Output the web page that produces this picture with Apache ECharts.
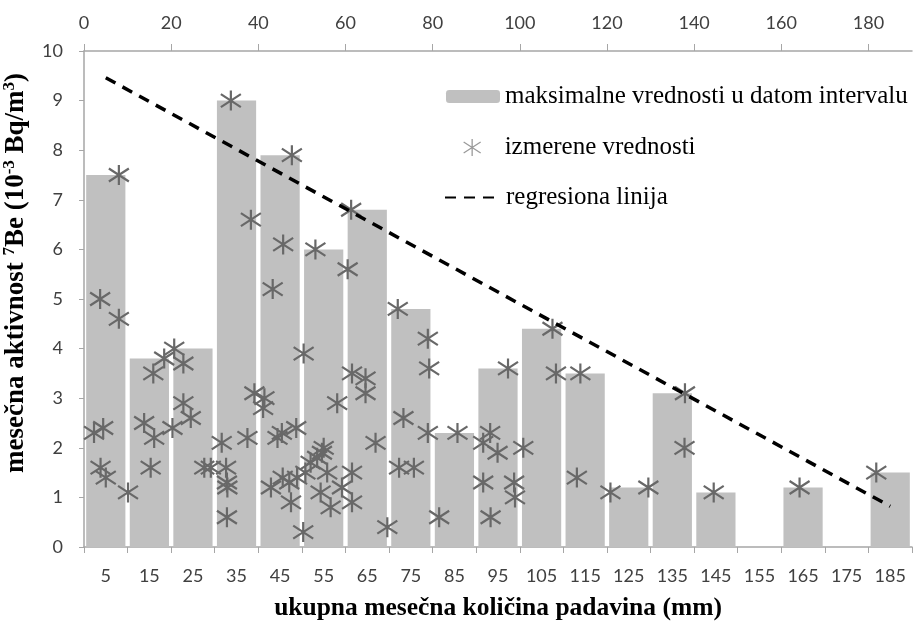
<!DOCTYPE html>
<html>
<head>
<meta charset="utf-8">
<script src="https://cdn.jsdelivr.net/npm/echarts@6/dist/echarts.min.js"></script>
<style>html,body{margin:0;padding:0;background:#fff}#c{width:924px;height:621px}</style>
</head>
<body>
<div id="c"></div>
<script>
// Categories (bottom axis, mm interval centres)
var categories = ['5','15','25','35','45','55','65','75','85','95','105','115','125','135','145','155','165','175','185'];
// Maximum value per interval (bars)
var barValues = [7.5,3.8,4.0,9.0,7.9,6.0,6.8,4.8,2.3,3.6,4.4,3.5,1.2,3.1,1.1,0,1.2,0,1.5];
// Measured values: precipitation (mm) and activity
var measuredX = [3.7,8.0,8.0,2.3,4.4,3.8,5.0,10.1,13.8,15.9,16.1,15.3,18.4,20.7,22.8,20.3,22.8,24.5,27.6,29.1,
  31.6,32.6,32.8,32.9,32.8,33.7,37.5,38.3,39.1,41.4,41.1,43.3,45.7,47.7,44.4,45.4,48.7,42.9,45.6,47.1,
  47.5,48.9,50.3,50.4,53.1,55.0,54.6,52.0,53.5,55.8,50.8,54.3,56.6,59.2,61.5,61.5,58.1,60.5,61.3,61.5,
  64.6,64.6,66.9,69.6,72.0,73.3,72.3,75.7,78.9,79.2,78.9,81.5,85.7,91.6,93.2,94.9,91.6,93.3,97.3,98.7,
  98.9,100.8,107.5,108.3,113.9,113.1,120.8,129.5,137.9,137.8,144.5,164.2,181.8];
var measuredY = [5.0,7.5,4.6,2.3,2.4,1.6,1.4,1.1,2.5,3.5,2.2,1.6,3.8,4.0,3.7,2.4,2.9,2.6,1.6,1.6,
  2.1,1.6,1.3,1.2,0.6,9.0,2.2,6.6,3.1,3.0,2.8,5.2,6.1,7.9,2.2,2.3,2.4,1.2,1.4,1.3,
  0.9,1.4,0.3,3.9,6.0,2.0,1.9,1.7,1.8,1.5,1.5,1.1,0.8,1.2,1.5,0.9,2.9,5.6,6.8,3.5,
  3.4,3.1,2.1,0.4,4.8,2.6,1.6,1.6,4.2,3.6,2.3,0.6,2.3,2.1,2.3,1.9,1.3,0.6,3.6,1.3,
  1.0,2.0,4.4,3.5,3.5,1.4,1.1,1.2,3.1,2.0,1.1,1.2,1.5];
// Regression line endpoints (mm, activity)
var regX = [5, 185];
var regY = [9.46, 0.82];
// Tick labels
var topTicks = [0,20,40,60,80,100,120,140,160,180];
var yTicks = [0,1,2,3,4,5,6,7,8,9,10];

var scatterData = measuredX.map(function(x,i){return [x, measuredY[i]];});
var regData = regX.map(function(x,i){return [x, regY[i]];});

var STAR = 'path://M10,0L10,20M0,3.5L20,16.5M0,16.5L20,3.5';
var axisGray = '#a6a6a6';
var labelFont = {fontFamily:'Lato', fontSize:18, color:'#404040'};
var serif = 'Liberation Serif';
var legendText = {fontFamily:serif, fontSize:25, color:'#000'};

var chart = echarts.init(document.getElementById('c'), null, {renderer:'canvas'});
chart.setOption({
  animation:false,
  backgroundColor:'#fff',
  grid:{left:84, right:12, top:51, bottom:74, containLabel:false, outerBoundsMode:'none'},
  legend:[
    {left:446, top:84, padding:0, itemWidth:54, itemHeight:13, data:[{name:'maksimalne vrednosti u datom intervalu'}],
     textStyle:legendText},
    {left:463, top:135, padding:0, itemWidth:17, itemHeight:17,
     data:[{name:'izmerene vrednosti', itemStyle:{borderColor:'#9a9a9a', borderWidth:1.3}}],
     textStyle:Object.assign({padding:[0,0,0,19]}, legendText)},
    {left:444, top:185, padding:0, itemWidth:56, itemHeight:14,
     data:[{name:'regresiona linija', itemStyle:{color:'rgba(0,0,0,0)', borderColor:'rgba(0,0,0,0)', borderWidth:0, opacity:0}}],
     textStyle:legendText}
  ],
  xAxis:[
    {type:'category', data:categories, position:'bottom',
     axisLine:{lineStyle:{color:axisGray, width:1.5}},
     axisTick:{show:true, length:6, lineStyle:{color:axisGray}},
     axisLabel:Object.assign({margin:20, interval:0}, labelFont),
     name:'ukupna mesečna količina padavina (mm)', nameLocation:'middle', nameGap:48,
     nameTextStyle:{fontFamily:serif, fontWeight:'bold', fontSize:25.5, color:'#000'}},
    {type:'value', position:'top', min:0, max:190, interval:20,
     axisLine:{show:true, lineStyle:{color:axisGray, width:1.5}},
     axisTick:{show:true, length:7, customValues:topTicks, lineStyle:{color:axisGray}},
     axisLabel:Object.assign({margin:19, customValues:topTicks}, labelFont),
     splitLine:{show:false}}
  ],
  yAxis:[
    {type:'value', min:0, max:10, interval:1,
     axisLine:{show:true, lineStyle:{color:axisGray, width:1.5}},
     axisTick:{show:true, length:5, lineStyle:{color:axisGray}},
     axisLabel:Object.assign({margin:21, customValues:yTicks}, labelFont),
     splitLine:{show:false},
     name:'mesečna aktivnost {s|7}Be (10{s|-3} Bq/m{s|3})', nameLocation:'middle', nameGap:46, nameRotate:90,
     nameTextStyle:{fontFamily:serif, fontWeight:'bold', fontSize:27, color:'#000', lineHeight:30, padding:[0,0,0,52],
       rich:{s:{fontFamily:serif, fontWeight:'bold', fontSize:17, color:'#000', verticalAlign:'top', lineHeight:30}}}}
  ],
  series:[
    {name:'maksimalne vrednosti u datom intervalu', type:'bar', xAxisIndex:0, yAxisIndex:0,
     data:barValues, barCategoryGap:'10%', itemStyle:{color:'#c0c0c0'}, z:1},
    {name:'izmerene vrednosti', type:'scatter', xAxisIndex:1, yAxisIndex:0, data:scatterData,
     symbol:STAR, symbolSize:[20,20],
     itemStyle:{color:'rgba(0,0,0,0)', borderColor:'#686868', borderWidth:2.2, opacity:1}, z:3},
    {name:'regresiona linija', type:'line', xAxisIndex:1, yAxisIndex:0, data:regData,
     symbol:'none', lineStyle:{color:'#000', width:3.5, type:[11,8]}, z:4}
  ]
});
</script>
</body>
</html>
